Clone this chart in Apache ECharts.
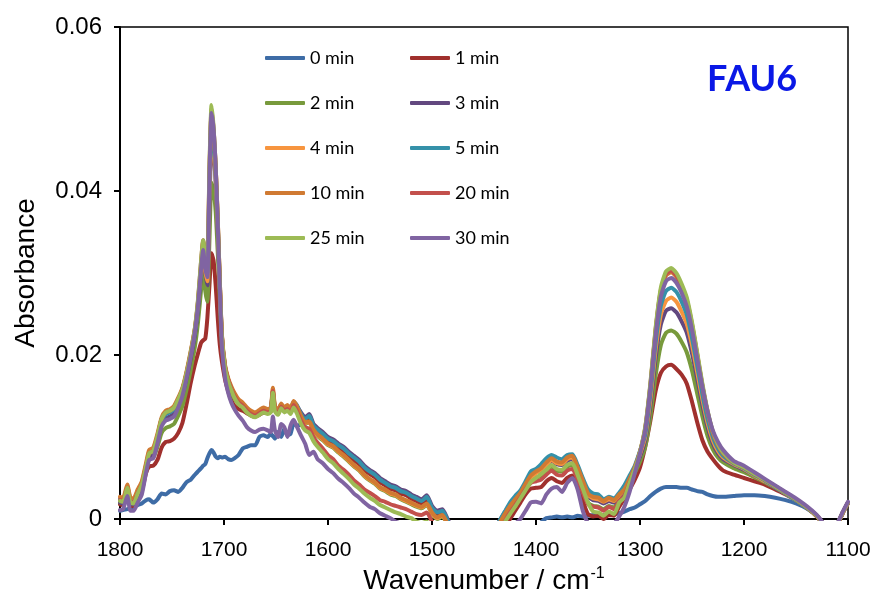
<!DOCTYPE html>
<html>
<head>
<meta charset="utf-8">
<script src="https://cdn.jsdelivr.net/npm/echarts@6/dist/echarts.min.js"></script>
<style>
  html, body { margin: 0; padding: 0; background: #fff; }
  #chart { width: 877px; height: 592px; }
</style>
</head>
<body>
<div id="chart"></div>
<script>
// Wavenumber (cm-1) sampling positions shared by every spectrum
const wavenumbers = [1800,1797,1793,1790,1787,1783,1779,1775,1772,1768,1764,1760,1756,1752,1748,1744,1740,1736,1732,1728,1725,1722,1720,1718,1716,1714,1712,1710,1708,1706,1704,1702,1699,1696,1693,1690,1686,1682,1678,1674,1670,1666,1662,1658,1655,1653,1651,1648,1645,1642,1639,1636,1633,1630,
  1626,1622,1618,1614,1610,1605,1600,1595,1590,1585,1580,1575,1570,1565,1560,1555,1550,1545,1540,1535,1530,1525,1520,1515,1510,1505,1500,1495,1490,1485,1480,1460,
  1440,1435,1430,1425,1420,1415,1410,1405,1400,1395,1390,1385,1380,1375,1370,1365,1360,1355,1350,1345,1340,1335,1330,1325,1320,
  1315,1310,1305,1300,1295,1290,1285,1280,1275,1270,1265,1260,1255,1250,1245,1240,1235,1230,1225,1220,1210,1200,1190,1180,1170,1160,1150,1140,1130,1125,1120,1115,1110,1105,1100];

const seriesNames = ['0 min','1 min','2 min','3 min','4 min','5 min','10 min','20 min','25 min','30 min'];
const seriesColors = ['#3E6CA6','#A0302D','#789A3C','#62487F','#F7953F','#3591A9','#D07A32','#C3504C','#9DBB55','#8064A2'];

// Absorbance values, one per wavenumber above
const abs0 = [0.0010,0.0011,0.0012,0.0013,0.0015,0.0017,0.0019,0.0023,0.0024,0.0020,0.0024,0.0031,0.0030,0.0034,0.0035,0.0033,0.0038,0.0045,0.0048,0.0054,0.0058,0.0062,0.0065,0.0067,0.0074,0.0080,0.0084,0.0081,0.0076,0.0074,0.0076,0.0075,0.0076,0.0073,0.0072,0.0074,0.0078,0.0086,0.0088,0.0090,0.0090,0.0100,0.0102,0.0100,0.0104,0.0101,0.0098,0.0106,0.0100,0.0110,0.0102,0.0104,0.0116,0.0114,
  0.0115,0.0116,0.0118,0.0110,0.0105,0.0100,0.0095,0.0092,0.0087,0.0083,0.0078,0.0072,0.0067,0.0061,0.0056,0.0052,0.0046,0.0042,0.0038,0.0036,0.0032,0.0030,0.0026,0.0023,0.0020,0.0024,0.0012,0.0006,0.0008,-0.0004,-0.0016,-0.0030,
  -0.0040,-0.0038,-0.0035,-0.0032,-0.0028,-0.0024,-0.0020,-0.0016,-0.0010,-0.0004,0.0001,0.0002,0.0003,0.0002,0.0003,0.0002,0.0004,0.0003,0.0004,0.0005,0.0005,0.0005,0.0006,0.0006,0.0007,
  0.0009,0.0012,0.0014,0.0018,0.0022,0.0028,0.0033,0.0037,0.0039,0.0039,0.0039,0.0038,0.0038,0.0036,0.0034,0.0033,0.0030,0.0028,0.0027,0.0027,0.0028,0.0029,0.0029,0.0028,0.0026,0.0023,0.0019,0.0013,0.0004,-0.0004,-0.0013,-0.0016,-0.0006,0.0008,0.0020];

const abs1 = [0.0018,0.0017,0.0032,0.0016,0.0016,0.0024,0.0034,0.0056,0.0064,0.0065,0.0072,0.0087,0.0094,0.0095,0.0098,0.0105,0.0117,0.0140,0.0166,0.0188,0.0202,0.0215,0.0218,0.0220,0.0245,0.0285,0.0324,0.0315,0.0285,0.0245,0.0212,0.0192,0.0170,0.0156,0.0145,0.0138,0.0134,0.0132,0.0129,0.0126,0.0125,0.0127,0.0130,0.0129,0.0131,0.0150,0.0133,0.0129,0.0137,0.0132,0.0134,0.0130,0.0139,0.0134,
  0.0125,0.0119,0.0122,0.0111,0.0106,0.0101,0.0095,0.0092,0.0087,0.0083,0.0077,0.0072,0.0067,0.0060,0.0055,0.0051,0.0045,0.0041,0.0037,0.0035,0.0031,0.0029,0.0025,0.0022,0.0019,0.0024,0.0011,0.0005,0.0007,-0.0005,-0.0017,-0.0032,
  -0.0030,-0.0020,-0.0010,0.0000,0.0010,0.0020,0.0030,0.0037,0.0038,0.0039,0.0046,0.0050,0.0046,0.0044,0.0050,0.0053,0.0040,0.0022,0.0006,0.0003,0.0004,0.0000,0.0005,0.0004,0.0015,
  0.0025,0.0036,0.0048,0.0063,0.0088,0.0120,0.0156,0.0178,0.0186,0.0188,0.0183,0.0176,0.0165,0.0143,0.0118,0.0096,0.0082,0.0073,0.0065,0.0059,0.0054,0.0050,0.0046,0.0042,0.0036,0.0030,0.0023,0.0014,0.0003,-0.0005,-0.0014,-0.0017,-0.0007,0.0007,0.0019];

const abs2 = [0.0020,0.0019,0.0034,0.0019,0.0018,0.0028,0.0038,0.0058,0.0073,0.0075,0.0088,0.0105,0.0111,0.0113,0.0116,0.0126,0.0138,0.0158,0.0182,0.0210,0.0240,0.0280,0.0305,0.0278,0.0265,0.0340,0.0410,0.0400,0.0375,0.0325,0.0268,0.0212,0.0178,0.0163,0.0154,0.0147,0.0140,0.0136,0.0130,0.0127,0.0126,0.0128,0.0131,0.0130,0.0132,0.0152,0.0134,0.0130,0.0138,0.0133,0.0135,0.0131,0.0140,0.0135,
  0.0124,0.0116,0.0118,0.0107,0.0101,0.0096,0.0090,0.0087,0.0081,0.0076,0.0070,0.0064,0.0059,0.0052,0.0047,0.0043,0.0037,0.0034,0.0030,0.0028,0.0024,0.0021,0.0018,0.0015,0.0013,0.0017,0.0006,0.0000,0.0003,-0.0008,-0.0020,-0.0035,
  -0.0020,-0.0010,0.0000,0.0010,0.0019,0.0028,0.0038,0.0047,0.0050,0.0053,0.0059,0.0064,0.0059,0.0058,0.0064,0.0066,0.0052,0.0036,0.0020,0.0016,0.0015,0.0012,0.0016,0.0014,0.0024,
  0.0030,0.0044,0.0056,0.0070,0.0088,0.0125,0.0175,0.0212,0.0227,0.0230,0.0226,0.0216,0.0203,0.0181,0.0153,0.0125,0.0101,0.0085,0.0075,0.0069,0.0062,0.0057,0.0051,0.0045,0.0038,0.0031,0.0023,0.0014,0.0004,-0.0004,-0.0013,-0.0016,-0.0006,0.0008,0.0020];

const abs3 = [0.0020,0.0019,0.0035,0.0018,0.0018,0.0029,0.0039,0.0060,0.0076,0.0079,0.0095,0.0115,0.0123,0.0125,0.0129,0.0140,0.0152,0.0172,0.0196,0.0224,0.0255,0.0300,0.0325,0.0300,0.0285,0.0380,0.0460,0.0445,0.0410,0.0350,0.0282,0.0220,0.0184,0.0168,0.0158,0.0150,0.0142,0.0138,0.0132,0.0128,0.0127,0.0129,0.0132,0.0130,0.0133,0.0154,0.0134,0.0130,0.0138,0.0133,0.0136,0.0132,0.0141,0.0138,
  0.0130,0.0124,0.0128,0.0116,0.0111,0.0106,0.0100,0.0097,0.0092,0.0088,0.0082,0.0077,0.0072,0.0065,0.0060,0.0056,0.0050,0.0046,0.0042,0.0040,0.0036,0.0034,0.0030,0.0027,0.0024,0.0029,0.0016,0.0010,0.0012,0.0000,-0.0013,-0.0030,
  -0.0012,-0.0002,0.0008,0.0018,0.0026,0.0032,0.0042,0.0052,0.0057,0.0060,0.0066,0.0071,0.0067,0.0066,0.0071,0.0073,0.0059,0.0043,0.0028,0.0023,0.0022,0.0019,0.0022,0.0020,0.0028,
  0.0032,0.0046,0.0060,0.0076,0.0096,0.0139,0.0196,0.0237,0.0254,0.0257,0.0252,0.0241,0.0227,0.0202,0.0171,0.0139,0.0112,0.0092,0.0080,0.0073,0.0066,0.0060,0.0053,0.0046,0.0038,0.0031,0.0023,0.0014,0.0004,-0.0004,-0.0013,-0.0016,-0.0006,0.0008,0.0020];

const abs4 = [0.0025,0.0024,0.0040,0.0024,0.0023,0.0034,0.0044,0.0066,0.0082,0.0085,0.0102,0.0122,0.0130,0.0132,0.0136,0.0146,0.0158,0.0178,0.0202,0.0230,0.0262,0.0308,0.0332,0.0302,0.0290,0.0395,0.0470,0.0452,0.0415,0.0355,0.0285,0.0222,0.0186,0.0170,0.0160,0.0152,0.0144,0.0140,0.0134,0.0130,0.0129,0.0131,0.0134,0.0132,0.0134,0.0158,0.0136,0.0131,0.0139,0.0134,0.0137,0.0133,0.0142,0.0136,
  0.0125,0.0117,0.0118,0.0108,0.0102,0.0097,0.0091,0.0088,0.0082,0.0077,0.0071,0.0065,0.0060,0.0053,0.0048,0.0044,0.0038,0.0035,0.0031,0.0029,0.0025,0.0022,0.0019,0.0016,0.0014,0.0018,0.0007,0.0001,0.0004,-0.0007,-0.0019,-0.0035,
  -0.0016,-0.0006,0.0005,0.0015,0.0023,0.0030,0.0041,0.0050,0.0056,0.0060,0.0066,0.0072,0.0068,0.0067,0.0073,0.0075,0.0061,0.0045,0.0030,0.0025,0.0024,0.0021,0.0024,0.0022,0.0029,
  0.0036,0.0048,0.0062,0.0079,0.0100,0.0146,0.0206,0.0249,0.0266,0.0270,0.0265,0.0253,0.0238,0.0212,0.0179,0.0146,0.0117,0.0096,0.0083,0.0075,0.0067,0.0061,0.0053,0.0046,0.0039,0.0031,0.0023,0.0014,0.0004,-0.0004,-0.0013,-0.0016,-0.0006,0.0008,0.0020];

const abs5 = [0.0024,0.0023,0.0039,0.0023,0.0022,0.0033,0.0043,0.0064,0.0080,0.0083,0.0100,0.0120,0.0128,0.0130,0.0134,0.0144,0.0156,0.0176,0.0200,0.0228,0.0260,0.0305,0.0330,0.0308,0.0300,0.0405,0.0480,0.0460,0.0420,0.0358,0.0286,0.0222,0.0186,0.0170,0.0160,0.0152,0.0144,0.0140,0.0134,0.0130,0.0129,0.0131,0.0134,0.0132,0.0135,0.0156,0.0136,0.0132,0.0140,0.0135,0.0138,0.0134,0.0143,0.0139,
  0.0128,0.0122,0.0126,0.0114,0.0109,0.0104,0.0098,0.0095,0.0090,0.0086,0.0080,0.0075,0.0070,0.0063,0.0058,0.0054,0.0048,0.0044,0.0040,0.0038,0.0034,0.0032,0.0028,0.0025,0.0022,0.0027,0.0014,0.0008,0.0010,-0.0002,-0.0015,-0.0030,
  -0.0015,-0.0002,0.0009,0.0020,0.0028,0.0035,0.0046,0.0058,0.0061,0.0067,0.0074,0.0078,0.0075,0.0073,0.0078,0.0079,0.0066,0.0050,0.0036,0.0031,0.0030,0.0024,0.0027,0.0025,0.0032,
  0.0041,0.0053,0.0065,0.0083,0.0103,0.0153,0.0215,0.0260,0.0278,0.0282,0.0277,0.0265,0.0249,0.0221,0.0187,0.0152,0.0122,0.0100,0.0086,0.0077,0.0068,0.0062,0.0054,0.0047,0.0039,0.0031,0.0023,0.0014,0.0004,-0.0004,-0.0013,-0.0016,-0.0006,0.0008,0.0020];

const abs10 = [0.0027,0.0026,0.0042,0.0026,0.0025,0.0036,0.0046,0.0068,0.0084,0.0087,0.0104,0.0124,0.0132,0.0134,0.0138,0.0148,0.0160,0.0180,0.0205,0.0232,0.0265,0.0310,0.0338,0.0315,0.0310,0.0420,0.0495,0.0470,0.0430,0.0365,0.0290,0.0225,0.0188,0.0172,0.0162,0.0154,0.0146,0.0142,0.0136,0.0132,0.0130,0.0133,0.0136,0.0134,0.0136,0.0160,0.0138,0.0133,0.0141,0.0136,0.0139,0.0135,0.0144,0.0138,
  0.0126,0.0118,0.0119,0.0109,0.0103,0.0098,0.0092,0.0089,0.0083,0.0078,0.0072,0.0066,0.0061,0.0054,0.0049,0.0045,0.0039,0.0036,0.0032,0.0030,0.0026,0.0023,0.0020,0.0017,0.0015,0.0019,0.0008,0.0002,0.0005,-0.0006,-0.0018,-0.0035,
  -0.0015,-0.0005,0.0006,0.0016,0.0024,0.0032,0.0043,0.0053,0.0058,0.0062,0.0069,0.0074,0.0070,0.0069,0.0075,0.0077,0.0063,0.0047,0.0031,0.0027,0.0026,0.0022,0.0026,0.0023,0.0030,
  0.0036,0.0049,0.0063,0.0082,0.0110,0.0163,0.0229,0.0277,0.0297,0.0301,0.0295,0.0282,0.0266,0.0236,0.0200,0.0162,0.0130,0.0105,0.0090,0.0080,0.0069,0.0063,0.0055,0.0048,0.0040,0.0032,0.0024,0.0015,0.0004,-0.0004,-0.0013,-0.0016,-0.0006,0.0008,0.0020];

const abs20 = [0.0023,0.0022,0.0038,0.0020,0.0020,0.0032,0.0042,0.0064,0.0080,0.0083,0.0100,0.0122,0.0130,0.0132,0.0136,0.0146,0.0158,0.0178,0.0203,0.0232,0.0266,0.0315,0.0340,0.0318,0.0312,0.0425,0.0500,0.0475,0.0430,0.0365,0.0290,0.0224,0.0186,0.0170,0.0159,0.0150,0.0142,0.0138,0.0132,0.0128,0.0126,0.0129,0.0132,0.0130,0.0132,0.0156,0.0133,0.0129,0.0137,0.0132,0.0134,0.0130,0.0139,0.0132,
  0.0120,0.0112,0.0110,0.0100,0.0093,0.0086,0.0078,0.0073,0.0065,0.0060,0.0054,0.0047,0.0042,0.0036,0.0032,0.0028,0.0023,0.0021,0.0018,0.0016,0.0014,0.0012,0.0009,0.0006,0.0005,0.0008,-0.0003,-0.0010,-0.0012,-0.0020,-0.0030,-0.0040,
  -0.0024,-0.0014,-0.0003,0.0008,0.0017,0.0026,0.0036,0.0044,0.0046,0.0048,0.0054,0.0059,0.0054,0.0053,0.0059,0.0061,0.0048,0.0032,0.0018,0.0015,0.0014,0.0010,0.0015,0.0012,0.0022,
  0.0028,0.0045,0.0062,0.0082,0.0111,0.0164,0.0231,0.0279,0.0299,0.0303,0.0297,0.0284,0.0267,0.0238,0.0201,0.0163,0.0131,0.0106,0.0090,0.0080,0.0069,0.0063,0.0055,0.0048,0.0040,0.0032,0.0024,0.0015,0.0004,-0.0004,-0.0013,-0.0016,-0.0006,0.0008,0.0020];

const abs25 = [0.0022,0.0021,0.0038,0.0020,0.0019,0.0031,0.0042,0.0064,0.0080,0.0083,0.0101,0.0122,0.0130,0.0132,0.0136,0.0146,0.0158,0.0178,0.0203,0.0233,0.0268,0.0316,0.0340,0.0319,0.0315,0.0430,0.0505,0.0478,0.0430,0.0364,0.0288,0.0222,0.0184,0.0168,0.0157,0.0148,0.0140,0.0136,0.0130,0.0126,0.0124,0.0127,0.0130,0.0128,0.0130,0.0154,0.0131,0.0127,0.0135,0.0130,0.0132,0.0128,0.0136,0.0129,
  0.0116,0.0108,0.0105,0.0095,0.0088,0.0081,0.0073,0.0068,0.0061,0.0055,0.0049,0.0042,0.0037,0.0031,0.0026,0.0022,0.0017,0.0014,0.0011,0.0008,0.0006,0.0003,0.0001,-0.0003,-0.0005,-0.0003,-0.0013,-0.0020,-0.0022,-0.0030,-0.0040,-0.0050,
  -0.0025,-0.0015,-0.0004,0.0006,0.0015,0.0025,0.0035,0.0045,0.0050,0.0055,0.0060,0.0066,0.0061,0.0060,0.0066,0.0068,0.0054,0.0037,0.0020,0.0009,0.0008,0.0004,0.0009,0.0006,0.0020,
  0.0026,0.0044,0.0061,0.0082,0.0112,0.0166,0.0233,0.0282,0.0302,0.0306,0.0300,0.0287,0.0270,0.0240,0.0203,0.0165,0.0132,0.0107,0.0091,0.0081,0.0069,0.0063,0.0055,0.0048,0.0040,0.0032,0.0024,0.0015,0.0004,-0.0004,-0.0013,-0.0016,-0.0006,0.0008,0.0020];

const abs30 = [0.0011,0.0012,0.0028,0.0010,0.0010,0.0020,0.0030,0.0056,0.0072,0.0074,0.0092,0.0113,0.0120,0.0122,0.0125,0.0136,0.0150,0.0172,0.0198,0.0228,0.0260,0.0306,0.0328,0.0305,0.0295,0.0415,0.0495,0.0475,0.0430,0.0360,0.0280,0.0210,0.0172,0.0154,0.0142,0.0134,0.0126,0.0120,0.0112,0.0108,0.0106,0.0109,0.0110,0.0108,0.0106,0.0125,0.0108,0.0100,0.0116,0.0112,0.0100,0.0114,0.0121,0.0113,
  0.0102,0.0092,0.0078,0.0082,0.0073,0.0068,0.0061,0.0056,0.0049,0.0044,0.0038,0.0031,0.0026,0.0020,0.0015,0.0012,0.0007,0.0004,0.0001,-0.0003,-0.0006,-0.0010,-0.0013,-0.0018,-0.0022,-0.0022,-0.0030,-0.0035,-0.0040,-0.0045,-0.0050,-0.0060,
  -0.0040,-0.0030,-0.0022,-0.0014,-0.0006,0.0000,0.0010,0.0020,0.0021,0.0019,0.0030,0.0037,0.0039,0.0033,0.0044,0.0050,0.0036,0.0010,-0.0005,-0.0010,-0.0012,-0.0015,-0.0012,-0.0006,0.0003,
  0.0015,0.0033,0.0056,0.0080,0.0108,0.0160,0.0224,0.0271,0.0290,0.0294,0.0288,0.0276,0.0259,0.0231,0.0196,0.0161,0.0131,0.0108,0.0094,0.0084,0.0071,0.0065,0.0057,0.0049,0.0041,0.0033,0.0025,0.0016,0.0005,-0.0003,-0.0012,-0.0015,-0.0005,0.0009,0.0021];

const seriesValues = [abs0, abs1, abs2, abs3, abs4, abs5, abs10, abs20, abs25, abs30];

const xTicks = { min: 1100, max: 1800, interval: 100 };
const yTicks = { min: 0, max: 0.06, interval: 0.02 };

const chart = echarts.init(document.getElementById('chart'), null, { renderer: 'canvas' });

const legendBase = {
  orient: 'vertical',
  top: 43,
  itemWidth: 40,
  itemHeight: 4,
  itemGap: 25,
  icon: 'roundRect',
  textStyle: { fontFamily: 'Lato', fontSize: 18, color: '#000', lineHeight: 20 },
  selectedMode: false
};

const option = {
  animation: false,
  color: seriesColors,
  grid: {
    left: 120, right: 29, top: 27, bottom: 73,
    outerBoundsMode: 'none',
    containLabel: false,
    show: true, borderColor: '#000', borderWidth: 1.5, backgroundColor: 'transparent'
  },
  legend: [
    Object.assign({}, legendBase, { left: 260, data: ['0 min','2 min','4 min','10 min','25 min'] }),
    Object.assign({}, legendBase, { left: 405, data: ['1 min','3 min','5 min','20 min','30 min'] })
  ],
  xAxis: {
    type: 'value',
    inverse: true,
    min: xTicks.min, max: xTicks.max, interval: xTicks.interval,
    name: 'Wavenumber / cm{sup|-1}',
    nameLocation: 'middle',
    nameGap: 44,
    nameTextStyle: {
      fontFamily: 'Liberation Sans', fontSize: 28, color: '#000',
      rich: { sup: { fontFamily: 'Liberation Sans', fontSize: 16, color: '#000', padding: [0, 0, 15, 1] } }
    },
    axisLine: { show: true, lineStyle: { color: '#000', width: 2 } },
    axisTick: { show: true, inside: false, length: 6, lineStyle: { color: '#000', width: 2 } },
    axisLabel: { fontFamily: 'Liberation Sans', fontSize: 21, color: '#000', margin: 21,
      formatter: function (v) { return String(v); } },
    splitLine: { show: false }
  },
  yAxis: {
    type: 'value',
    min: yTicks.min, max: yTicks.max, interval: yTicks.interval,
    name: 'Absorbance',
    nameLocation: 'middle',
    nameGap: 80,
    nameTextStyle: { fontFamily: 'Liberation Sans', fontSize: 28, color: '#000' },
    axisLine: { show: true, lineStyle: { color: '#000', width: 2 } },
    axisTick: { show: true, inside: false, length: 6, lineStyle: { color: '#000', width: 2 } },
    axisLabel: { fontFamily: 'Liberation Sans', fontSize: 24, color: '#000', margin: 18 },
    splitLine: { show: false }
  },
  graphic: [{
    type: 'text',
    left: 707,
    top: 61,
    z: 100,
    style: {
      text: 'FAU6',
      fontFamily: 'Lato',
      fontWeight: 'bold',
      fontSize: 36,
      fill: '#0A18E6',
      shadowColor: 'rgba(0,0,0,0.35)',
      shadowBlur: 3,
      shadowOffsetX: 2,
      shadowOffsetY: 2
    }
  }],
  series: seriesNames.map((name, k) => ({
    name: name,
    type: 'line',
    data: wavenumbers.map((w, i) => [w, seriesValues[k][i]]),
    showSymbol: false,
    symbol: 'none',
    smooth: 0.2,
    clip: true,
    lineStyle: { width: 4, color: seriesColors[k], cap: 'round', join: 'round' },
    itemStyle: { color: seriesColors[k] },
    emphasis: { disabled: true }
  }))
};

chart.setOption(option);
</script>
</body>
</html>
